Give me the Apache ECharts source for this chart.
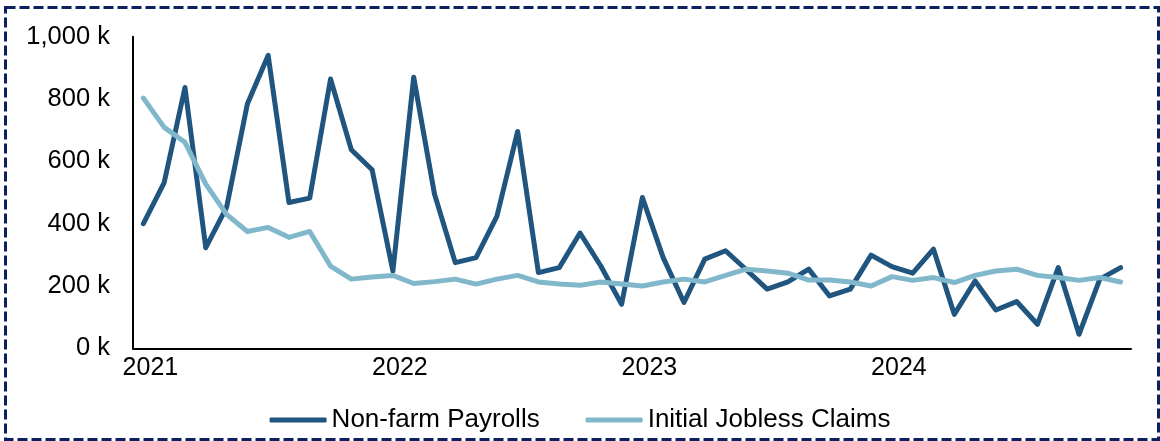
<!DOCTYPE html>
<html>
<head>
<meta charset="utf-8">
<title>Non-farm Payrolls vs Initial Jobless Claims</title>
<script src="https://cdn.jsdelivr.net/npm/echarts@6/dist/echarts.min.js"></script>
<style>
  html, body { margin: 0; padding: 0; background: #fff; }
  #chart { width: 1160px; height: 441px; }
</style>
</head>
<body>
<div id="chart"></div>
<script>
// Monthly figures, thousands of persons, Jan 2021 - Dec 2024
const years = ['2021', '2022', '2023', '2024'];
const monthsOfYear = ['01', '02', '03', '04', '05', '06', '07', '08', '09', '10', '11', '12'];
const months = [];
years.forEach(y => monthsOfYear.forEach(m => months.push(y + '-' + m)));

const payrolls = [
  400, 532, 837, 323, 452, 784, 940, 468, 482, 864, 637, 573,
  248, 870, 495, 275, 291, 423, 696, 243, 259, 370, 264, 141,
  484, 291, 147, 286, 313, 252, 190, 213, 254, 168, 190, 299,
  262, 241, 318, 109, 216, 123, 150, 77, 259, 45, 222, 259
];

const joblessClaims = [
  803, 709, 661, 527, 430, 375, 388, 356, 375, 264, 222, 229,
  234, 208, 214, 222, 206, 222, 234, 213, 206, 202, 213, 206,
  200, 213, 222, 213, 234, 254, 248, 241, 219, 219, 213, 200,
  230, 218, 227, 211, 234, 248, 254, 234, 227, 218, 227, 213
];

const yTicks = [0, 200, 400, 600, 800, 1000];

const FONT = 'Liberation Sans, Arial, sans-serif';
const DARK = '#1F557F';
const LIGHT = '#80B7CB';

const chart = echarts.init(document.getElementById('chart'), null, { renderer: 'canvas' });

chart.setOption({
  animation: false,
  backgroundColor: '#ffffff',
  textStyle: { fontFamily: FONT },
  graphic: [{
    type: 'rect',
    silent: true,
    shape: { x: 5.5, y: 7.5, width: 1153, height: 432 },
    style: { fill: 'none', stroke: '#0C1F5E', lineWidth: 3, lineDash: [10, 4] }
  }],
  grid: { left: 133, right: 29, top: 36.7, bottom: 92.7, containLabel: false },
  legend: {
    top: 402,
    left: 'center',
    icon: 'roundRect',
    itemWidth: 57,
    itemHeight: 5,
    itemGap: 46,
    textStyle: { fontFamily: FONT, fontSize: 26, color: '#000' },
    data: ['Non-farm Payrolls', 'Initial Jobless Claims']
  },
  xAxis: {
    type: 'category',
    data: months,
    boundaryGap: true,
    axisLine: { show: true, lineStyle: { color: '#000', width: 2 } },
    axisTick: { show: false },
    splitLine: { show: false },
    axisLabel: {
      interval: 11,
      margin: 7,
      padding: [0, 0, 0, 14],
      fontFamily: FONT,
      fontSize: 25,
      color: '#000',
      formatter: v => v.slice(0, 4)
    }
  },
  yAxis: {
    type: 'value',
    min: yTicks[0],
    max: yTicks[yTicks.length - 1],
    interval: 200,
    axisLine: { show: true, lineStyle: { color: '#000', width: 2 } },
    axisTick: { show: false },
    splitLine: { show: false },
    axisLabel: {
      margin: 23,
      padding: [5, 0, 0, 0],
      fontFamily: FONT,
      fontSize: 25.5,
      color: '#000',
      formatter: v => v.toLocaleString('en-US') + ' k'
    }
  },
  series: [
    {
      name: 'Non-farm Payrolls',
      type: 'line',
      data: payrolls,
      symbol: 'none',
      lineStyle: { color: DARK, width: 5, cap: 'round', join: 'round' },
      itemStyle: { color: DARK }
    },
    {
      name: 'Initial Jobless Claims',
      type: 'line',
      data: joblessClaims,
      symbol: 'none',
      lineStyle: { color: LIGHT, width: 5, cap: 'round', join: 'round' },
      itemStyle: { color: LIGHT }
    }
  ]
});
</script>
</body>
</html>
